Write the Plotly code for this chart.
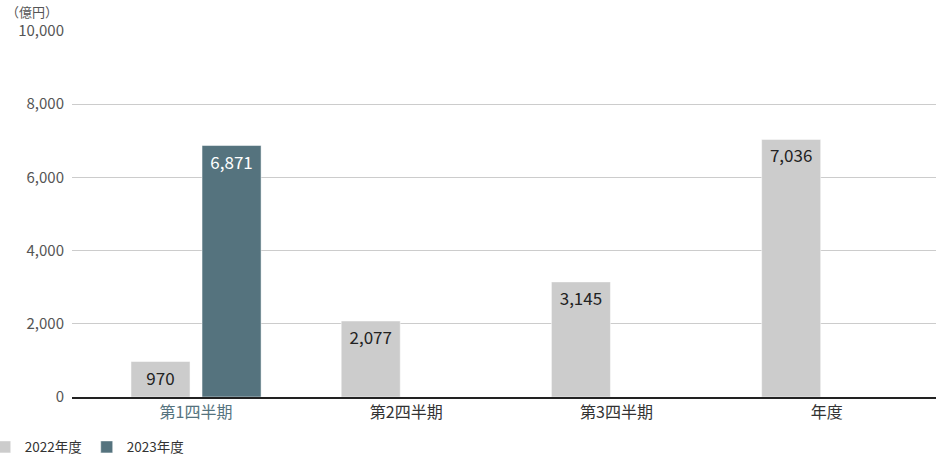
import plotly.graph_objects as go

categories = ['第1四半期', '第2四半期', '第3四半期', '年度']
fy2022 = [970, 2077, 3145, 7036]
fy2023 = [6871, None, None, None]
tick_labels = ['<span style="color:#55737e">第1四半期</span>', '第2四半期', '第3四半期', '年度']
y_ticks = [0, 2000, 4000, 6000, 8000, 10000]

font = 'Noto Sans CJK JP'

fig = go.Figure()
fig.add_trace(go.Bar(x=categories, y=fy2022, name='2022年度',
                     marker_color='#cccccc',
                     texttemplate='%{y:,}', textposition='inside',
                     insidetextanchor='end',
                     textfont=dict(size=17, color='#222222', family=font)))
fig.add_trace(go.Bar(x=categories, y=fy2023, name='2023年度',
                     marker_color='#55737e',
                     texttemplate='%{y:,}', textposition='inside',
                     insidetextanchor='end',
                     textfont=dict(size=17, color='#ffffff', family=font)))

fig.update_layout(
    width=936, height=456,
    margin=dict(l=72, r=0, t=31, b=59, autoexpand=False),
    template='plotly_white',
    paper_bgcolor='white', plot_bgcolor='white',
    font=dict(family=font, size=14, color='#333333'),
    barmode='group', bargap=0.324, bargroupgap=0.169,
    showlegend=True,
    legend=dict(orientation='h', x=-0.101, xanchor='left', y=-0.137, yanchor='middle',
                font=dict(size=13.5, color='#333333'), itemwidth=30,
                tracegroupgap=0, bgcolor='rgba(0,0,0,0)'),
    uniformtext=dict(mode=False),
)
fig.update_xaxes(type='category', range=[-0.59, 3.52],
                 tickmode='array', tickvals=categories, ticktext=tick_labels,
                 tickfont=dict(size=16, color='#333333'),
                 showgrid=False, showline=True, linecolor='#222222', linewidth=1.5,
                 ticks='', automargin=False)
fig.update_yaxes(range=[0, 10000], tickvals=y_ticks, tickformat=',',
                 tickfont=dict(size=15, color='#555555'),
                 showgrid=True, gridcolor='#cccccc', gridwidth=1,
                 zeroline=False, ticks='', ticklabelstandoff=7, automargin=False)
fig.add_annotation(text='（億円）', xref='paper', yref='paper', x=-0.079, y=1.052,
                   xanchor='left', yanchor='middle', showarrow=False,
                   font=dict(size=13, color='#555555'))

# the page's default body margin would shift the figure by 8px
fig.write_html('out.html', config={'displayModeBar': False},
               post_script="document.body.style.margin='0';document.body.style.overflow='hidden';")
